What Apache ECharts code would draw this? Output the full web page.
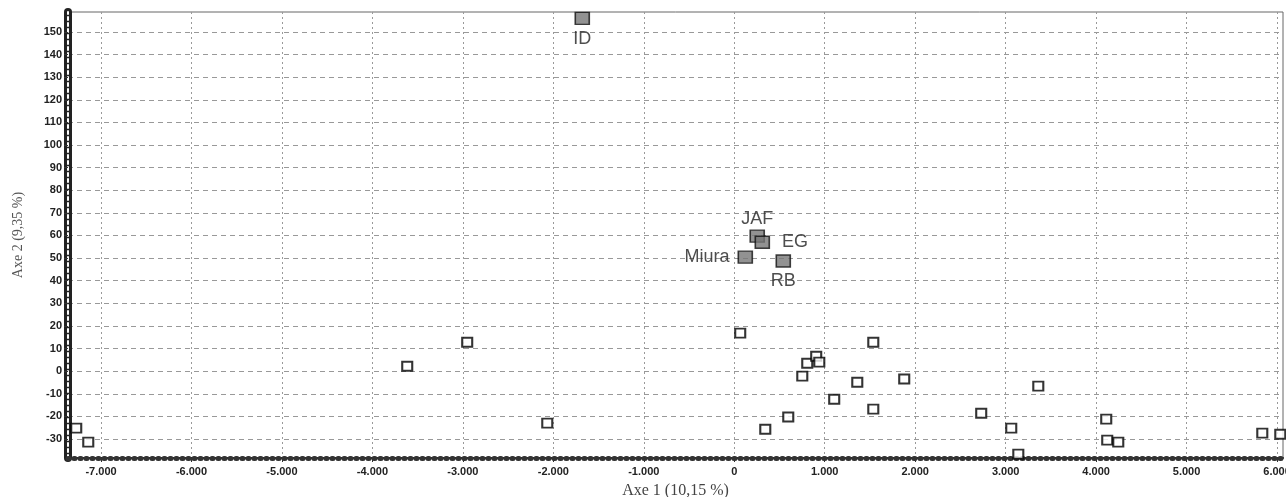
<!DOCTYPE html>
<html>
<head>
<meta charset="utf-8">
<script src="https://cdn.jsdelivr.net/npm/echarts@6/dist/echarts.min.js"></script>
<style>
html,body{margin:0;padding:0;background:#fff;}
#c{width:1286px;height:497px;}
</style>
</head>
<body>
<div id="c"></div>
<script>
// ---- data ----
const bigNames = ['ID', 'JAF', 'EG', 'Miura', 'RB'];
const bigX = [-1680, 254, 310, 122, 542];
const bigY = [156, 59.7, 57, 50.4, 48.7];

const smallX = [-7274, -7141, -3615, -2952, -2067, 66, 752, 807, 906, 940, 343, 597, 1105, 1360, 1537, 1537, 1879, 2730, 3361, 3062, 3140, 4112, 4123, 4245, 5837, 6036];
const smallY = [-25.2, -31.4, 2.2, 12.8, -23, 16.8, -2.2, 3.5, 6.6, 4, -25.7, -20.3, -12.4, -4.9, 12.8, -16.8, -3.5, -18.6, -6.6, -25.2, -36.7, -21.2, -30.5, -31.4, -27.4, -27.9];

const xTicks = [-7000, -6000, -5000, -4000, -3000, -2000, -1000, 0, 1000, 2000, 3000, 4000, 5000, 6000];
const yTicks = [-30, -20, -10, 0, 10, 20, 30, 40, 50, 60, 70, 80, 90, 100, 110, 120, 130, 140, 150];
const xTitle = 'Axe 1 (10,15 %)';
const yTitle = 'Axe 2 (9,35 %)';

// ---- style ----
const labelPlacement = {
  ID: {position: 'bottom', distance: 5},
  JAF: {position: 'top', distance: 1},
  EG: {position: 'right', distance: 12},
  Miura: {position: 'left', distance: 8},
  RB: {position: 'bottom', distance: 4}
};
const X_MIN = -7365, X_MAX = 6066, Y_MIN = -38.4, Y_MAX = 158.8;

function fmtX(v) {
  if (v === 0) return '0';
  return (v < 0 ? '-' : '') + (Math.abs(v) / 1000) + '.000';
}

const tickFont = {fontFamily: 'Liberation Sans Narrow, Liberation Sans, sans-serif', fontWeight: 'bold', fontSize: 11, color: '#222'};

const chart = echarts.init(document.getElementById('c'), null, {renderer: 'canvas'});
chart.setOption({
  animation: false,
  backgroundColor: '#fff',
  grid: {left: 68, right: 3, top: 12, bottom: 39, show: true, borderColor: '#666', borderWidth: 1, containLabel: false, outerBoundsMode: 'none'},
  xAxis: [{
    type: 'value', min: X_MIN, max: X_MAX, position: 'bottom',
    name: xTitle, nameLocation: 'middle', nameGap: 25,
    nameTextStyle: {fontFamily: 'Liberation Serif, serif', fontSize: 16, color: '#444'},
    axisLine: {show: true, onZero: false, lineStyle: {color: '#222', width: 2}},
    axisTick: {show: true, customValues: xTicks, length: 4, lineStyle: {color: '#333'}},
    axisLabel: Object.assign({customValues: xTicks, formatter: fmtX, margin: 8}, tickFont),
    splitLine: {show: true, lineStyle: {color: '#999', type: [2, 3], width: 1}}
  }, {
    type: 'value', min: X_MIN, max: X_MAX, position: 'bottom',
    axisLine: {show: true, onZero: false, lineStyle: {color: '#333', width: 5, type: [1, 5]}},
    axisTick: {show: false}, axisLabel: {show: false}, splitLine: {show: false}
  }],
  yAxis: [{
    type: 'value', min: Y_MIN, max: Y_MAX, position: 'left',
    name: yTitle, nameLocation: 'middle', nameGap: 43, nameRotate: 90,
    nameTextStyle: {fontFamily: 'Liberation Serif, serif', fontSize: 14, color: '#555'},
    axisLine: {show: true, onZero: false, lineStyle: {color: '#222', width: 8}},
    axisTick: {show: true, customValues: yTicks, length: 4, lineStyle: {color: '#333'}},
    axisLabel: Object.assign({customValues: yTicks, margin: 6}, tickFont),
    splitLine: {show: true, lineStyle: {color: '#999', type: [5, 4], width: 1}}
  }, {
    type: 'value', min: Y_MIN, max: Y_MAX, position: 'left',
    axisLine: {show: true, onZero: false, lineStyle: {color: '#fff', width: 2, type: [3, 3]}},
    axisTick: {show: false}, axisLabel: {show: false}, splitLine: {show: false}
  }],
  series: [{
    type: 'scatter',
    symbol: 'rect', symbolSize: [10, 9],
    itemStyle: {color: '#fff', borderColor: '#000', borderWidth: 2},
    data: smallX.map((x, i) => [x, smallY[i]]),
    z: 3
  }, {
    type: 'scatter',
    symbol: 'rect', symbolSize: [14, 12],
    itemStyle: {color: '#777', borderColor: '#111', borderWidth: 1.5},
    data: bigNames.map((n, i) => ({
      name: n, value: [bigX[i], bigY[i]],
      label: {show: true, formatter: n, position: labelPlacement[n].position, distance: labelPlacement[n].distance}
    })),
    label: {fontFamily: 'Liberation Sans, Arial, sans-serif', fontSize: 18, color: '#222'},
    z: 4
  }]
});
</script>
</body>
</html>
